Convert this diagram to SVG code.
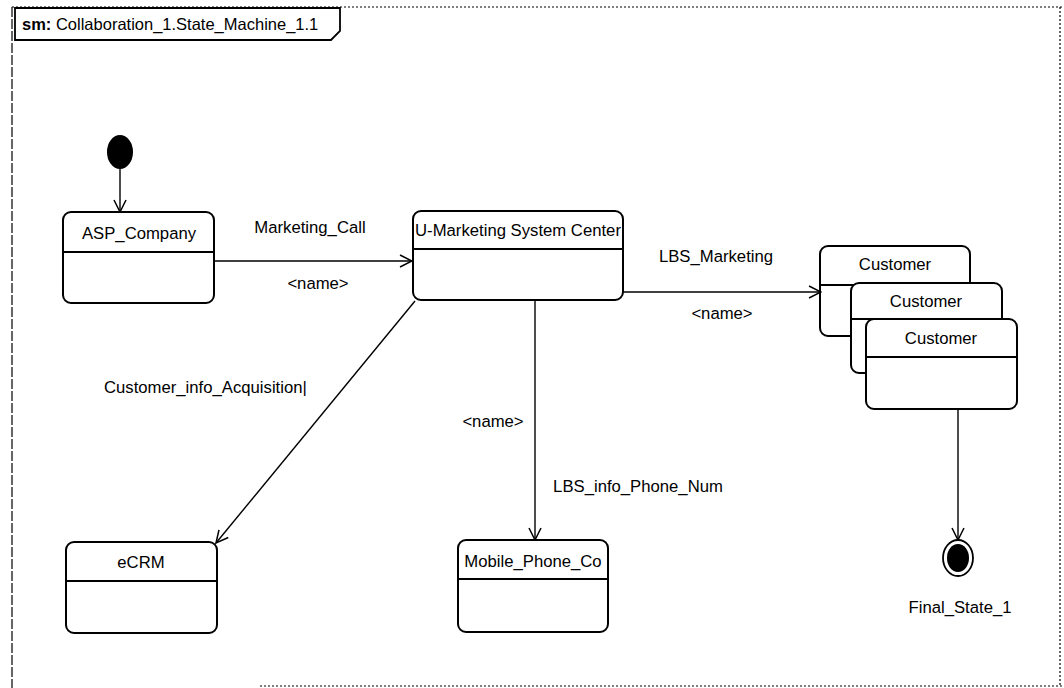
<svg xmlns="http://www.w3.org/2000/svg" width="1064" height="688" viewBox="0 0 1064 688">
<defs>
<marker id="open" viewBox="0 0 14 14" refX="13" refY="7" markerWidth="14" markerHeight="14" markerUnits="userSpaceOnUse" orient="auto">
<path d="M1,1 L13,7 L1,13" fill="none" stroke="#000" stroke-width="1.5"/>
</marker>
<style>
text{font-family:"Liberation Sans",Arial,sans-serif;font-size:16.7px;fill:#000}
.st{fill:#fff;stroke:#000;stroke-width:2}
.dv{stroke:#000;stroke-width:2}
.c{text-anchor:middle}
.edge{fill:none;stroke:#000;stroke-width:1.4;marker-end:url(#open)}
.frame{fill:none;stroke:#000;stroke-width:1.2;stroke-dasharray:2 2}
</style>
</defs>
<rect width="1064" height="688" fill="#fff"/>
<g id="frame">
<path class="frame" d="M12,7 L1062,7 M1060,7 L1060,686 M260,686 L1062,686"/>
<path d="M12,7 L12,688" fill="none" stroke="#000" stroke-width="1.2" stroke-dasharray="10 2"/>
<path d="M15,8 L340,8 L340,31 L331,40 L15,40 Z" fill="#fff" stroke="#000" stroke-width="1.8"/>
<text x="22" y="30" style="font-size:16.5px"><tspan font-weight="bold">sm:</tspan> Collaboration_1.State_Machine_1.1</text>
</g>
<g id="initial">
<ellipse cx="120" cy="152" rx="13" ry="17" fill="#000"/>
</g>
<g id="asp">
<rect class="st" x="63" y="212" width="151" height="91" rx="8"/>
<line class="dv" x1="63" y1="252" x2="214" y2="252"/>
<text class="c" x="139" y="239">ASP_Company</text>
</g>
<g id="umkt">
<rect class="st" x="413" y="211" width="210" height="89" rx="8"/>
<line class="dv" x1="413" y1="249" x2="623" y2="249"/>
<text class="c" x="518" y="236">U-Marketing System Center</text>
</g>
<g id="customer1">
<rect class="st" x="820" y="246" width="150" height="90" rx="8"/>
<line class="dv" x1="820" y1="285" x2="970" y2="285"/>
<text class="c" x="895" y="270">Customer</text>
</g>
<g id="customer2">
<rect class="st" x="851" y="283" width="151" height="90" rx="8"/>
<line class="dv" x1="851" y1="319" x2="1002" y2="319"/>
<text class="c" x="926" y="307">Customer</text>
</g>
<g id="customer3">
<rect class="st" x="866" y="319" width="151" height="90" rx="8"/>
<line class="dv" x1="866" y1="357" x2="1017" y2="357"/>
<text class="c" x="941" y="344">Customer</text>
</g>
<g id="ecrm">
<rect class="st" x="66" y="542" width="151" height="91" rx="8"/>
<line class="dv" x1="66" y1="581" x2="217" y2="581"/>
<text class="c" x="141" y="568">eCRM</text>
</g>
<g id="mobile">
<rect class="st" x="458" y="540" width="150" height="92" rx="8"/>
<line class="dv" x1="458" y1="579" x2="608" y2="579"/>
<text class="c" x="533" y="567">Mobile_Phone_Co</text>
</g>
<g id="final">
<ellipse cx="958" cy="558" rx="15" ry="18" fill="#fff" stroke="#000" stroke-width="1.8"/>
<ellipse cx="958" cy="558" rx="11" ry="14" fill="#000"/>
<text class="c" x="960" y="613">Final_State_1</text>
</g>
<g id="connectors">
<line class="edge" x1="120" y1="169" x2="120" y2="212"/>
<line class="edge" x1="214" y1="261" x2="412" y2="261"/>
<line class="edge" x1="623" y1="292" x2="821" y2="292"/>
<line class="edge" x1="415" y1="301" x2="216" y2="543"/>
<line class="edge" x1="535" y1="300" x2="535" y2="540"/>
<line class="edge" x1="958" y1="409" x2="958" y2="540"/>
<text class="c" x="310" y="233">Marketing_Call</text>
<text class="c" x="318" y="289">&lt;name&gt;</text>
<text class="c" x="716" y="262">LBS_Marketing</text>
<text class="c" x="722" y="319">&lt;name&gt;</text>
<text x="104" y="393">Customer_info_Acquisition|</text>
<text class="c" x="493" y="427">&lt;name&gt;</text>
<text class="c" x="638" y="492">LBS_info_Phone_Num</text>
</g>
</svg>
